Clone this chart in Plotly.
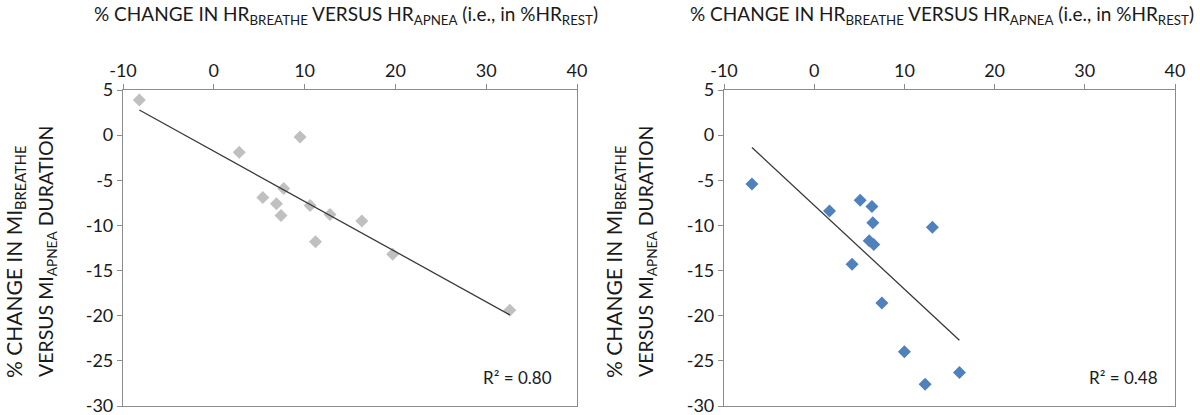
import numpy as np
import plotly.graph_objects as go

# Left panel data (grey)
left_x = [-8.2, 2.8, 9.5, 7.7, 5.4, 6.9, 7.4, 10.6, 12.8, 11.2, 16.3, 19.7, 32.6]
left_y = [3.9, -1.9, -0.2, -5.9, -6.9, -7.6, -8.9, -7.8, -8.8, -11.8, -9.5, -13.2, -19.4]
left_r2 = "R² = 0.80"

# Right panel data (blue)
right_x = [-6.9, 1.7, 5.1, 6.4, 6.5, 6.1, 6.6, 4.2, 7.5, 13.1, 10.0, 12.3, 16.1]
right_y = [-5.4, -8.4, -7.2, -7.9, -9.7, -11.7, -12.1, -14.3, -18.6, -10.2, -24.0, -27.6, -26.3]
right_r2 = "R² = 0.48"

x_ticks = [-10, 0, 10, 20, 30, 40]
y_ticks = [5, 0, -5, -10, -15, -20, -25, -30]

FONT = "Lato"
title_text = "% CHANGE IN HR<sub>BREATHE</sub> VERSUS HR<sub>APNEA</sub> (i.e., in %HR<sub>REST</sub>)"
ytitle1 = "% CHANGE IN MI<sub>BREATHE</sub>"
ytitle2 = "VERSUS MI<sub>APNEA</sub> DURATION"

fig = go.Figure()

def add_panel(xs, ys, color, xa, ya):
    fig.add_trace(go.Scatter(
        x=xs, y=ys, mode="markers", xaxis=xa, yaxis=ya,
        marker=dict(symbol="diamond", size=10, color=color, line=dict(width=0)),
        showlegend=False, hoverinfo="skip", cliponaxis=False))
    slope, intercept = np.polyfit(xs, ys, 1)
    lx = np.array([min(xs), max(xs)])
    fig.add_trace(go.Scatter(
        x=lx, y=slope * lx + intercept, mode="lines", xaxis=xa, yaxis=ya,
        line=dict(color="#3a3a3a", width=1.3), showlegend=False, hoverinfo="skip"))

add_panel(left_x, left_y, "#C0C0C0", "x", "y")
add_panel(right_x, right_y, "#4F81BD", "x2", "y2")

H = 415.0
W = 1200.0
ytop = 1 - 90 / H
ybot = 1 - 406 / H

axis_common = dict(
    showgrid=False, zeroline=False, showline=True, linecolor="#8c8c8c", linewidth=1.2,
    mirror=True, ticks="outside", ticklen=5, tickcolor="#8c8c8c", tickwidth=1,
    tickfont=dict(family=FONT, size=18, color="#1a1a1a"), automargin=False,
    ticklabeloverflow="allow",
)

xt_text = [str(v) for v in x_ticks]
yt_text = [str(v) for v in y_ticks]

fig.update_layout(
    width=1200, height=415,
    margin=dict(l=0, r=0, t=0, b=0, autoexpand=False),
    paper_bgcolor="white", plot_bgcolor="white",
    font=dict(family=FONT, color="#1a1a1a"),
    xaxis=dict(domain=[123 / W, 577 / W], range=[-10, 40], side="top", tickvals=x_ticks,
               ticktext=xt_text, anchor="y", **axis_common),
    yaxis=dict(domain=[ybot, ytop], range=[-30, 5], tickvals=y_ticks, ticktext=yt_text,
               anchor="x", **axis_common),
    xaxis2=dict(domain=[724 / W, 1175 / W], range=[-10, 40], side="top", tickvals=x_ticks,
                ticktext=xt_text, anchor="y2", **axis_common),
    yaxis2=dict(domain=[ybot, ytop], range=[-30, 5], tickvals=y_ticks, ticktext=yt_text,
                anchor="x2", **axis_common),
)

annots = []
for cx in [346, 942]:
    annots.append(dict(x=cx / W, y=1 - 15 / H, xref="paper", yref="paper", text=title_text,
                       showarrow=False, xanchor="center", yanchor="middle",
                       font=dict(family=FONT, size=19, color="#1a1a1a")))
for x1, x2 in [(15, 47), (615, 647)]:
    annots.append(dict(x=x1 / W, y=1 - 262 / H, xref="paper", yref="paper", text=ytitle1,
                       showarrow=False, textangle=-90, xanchor="center", yanchor="middle",
                       font=dict(family=FONT, size=21, color="#1a1a1a")))
    annots.append(dict(x=x2 / W, y=1 - 252 / H, xref="paper", yref="paper", text=ytitle2,
                       showarrow=False, textangle=-90, xanchor="center", yanchor="middle",
                       font=dict(family=FONT, size=19.5, color="#1a1a1a")))
annots.append(dict(x=517 / W, y=1 - 377 / H, xref="paper", yref="paper", text=left_r2,
                   showarrow=False, xanchor="center", yanchor="middle",
                   font=dict(family=FONT, size=17, color="#1a1a1a")))
annots.append(dict(x=1123 / W, y=1 - 377 / H, xref="paper", yref="paper", text=right_r2,
                   showarrow=False, xanchor="center", yanchor="middle",
                   font=dict(family=FONT, size=17, color="#1a1a1a")))
fig.update_layout(annotations=annots)

fig.write_html("out.html", config={"displayModeBar": False},
               post_script="document.body.style.margin='0';document.body.style.overflow='hidden';")
